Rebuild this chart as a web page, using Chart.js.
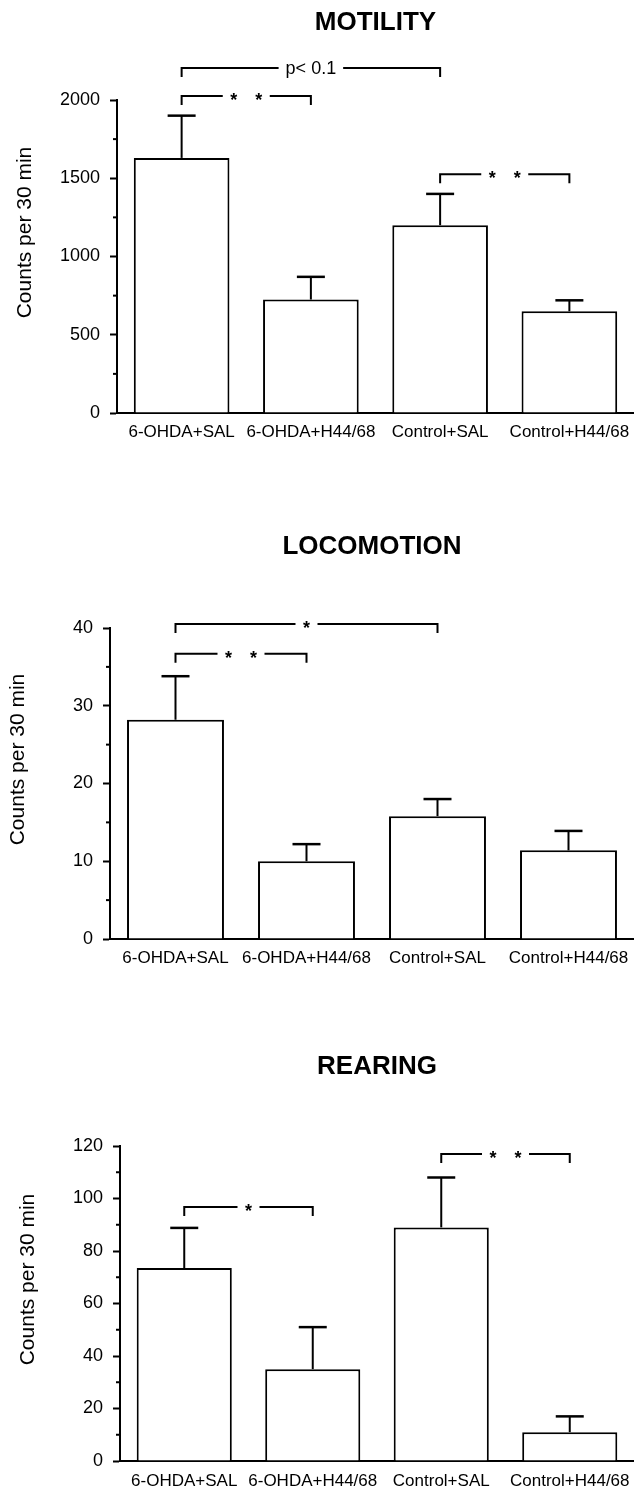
<!DOCTYPE html>
<html>
<head>
<meta charset="utf-8">
<script src="https://cdn.jsdelivr.net/npm/chart.js@4.4.0/dist/chart.umd.min.js"></script>
<style>
  body { margin: 0; background: #fff; }
  canvas { display: block; }
</style>
</head>
<body>
<canvas id="motility-chart" width="634" height="470"></canvas>
<canvas id="locomotion-chart" width="634" height="505"></canvas>
<canvas id="rearing-chart" width="634" height="514"></canvas>
<script>
// data
var groups = ['6-OHDA+SAL', '6-OHDA+H44/68', 'Control+SAL', 'Control+H44/68'];

var motilityMeans = [1630, 725, 1200, 650];
var motilityErrors = [270, 145, 200, 70];
var motilityTicks = [0, 500, 1000, 1500, 2000];

var locomotionMeans = [28.2, 10, 15.8, 11.4];
var locomotionErrors = [5.6, 2.2, 2.2, 2.5];
var locomotionTicks = [0, 10, 20, 30, 40];

var rearingMeans = [73.5, 35, 89, 11];
var rearingErrors = [15.3, 16, 19, 6];
var rearingTicks = [0, 20, 40, 60, 80, 100, 120];

// significance brackets (group indices + level in axis units)
var motilityBrackets = [
  { from: 0, to: 2, level: 2205, label: 'p< 0.1' },
  { from: 0, to: 1, level: 2025, label: '* *' },
  { from: 2, to: 3, level: 1525, label: '* *' }
];
var locomotionBrackets = [
  { from: 0, to: 2, level: 40.5, label: '*' },
  { from: 0, to: 1, level: 36.7, label: '* *' }
];
var rearingBrackets = [
  { from: 0, to: 1, level: 96.8, label: '*' },
  { from: 2, to: 3, level: 117, label: '* *' }
];

Chart.defaults.font.family = '"Liberation Sans", Arial, sans-serif';
Chart.defaults.color = '#000';

// minor ticks, error bars, brackets and the y title
var panelDecor = {
  id: 'panelDecor',
  afterDatasetsDraw: function (chart, args, opts) {
    var ctx = chart.ctx;
    var area = chart.chartArea;
    var yScale = chart.scales.y;
    var bars = chart.getDatasetMeta(0).data;
    var means = chart.data.datasets[0].data;
    ctx.save();
    ctx.strokeStyle = '#000';
    ctx.fillStyle = '#000';

    ctx.lineWidth = 2;
    for (var i = 0; i < opts.ticks.length - 1; i++) {
      var ym = yScale.getPixelForValue((opts.ticks[i] + opts.ticks[i + 1]) / 2);
      ctx.beginPath();
      ctx.moveTo(area.left - 4, ym);
      ctx.lineTo(area.left, ym);
      ctx.stroke();
    }

    bars.forEach(function (bar, i) {
      var top = yScale.getPixelForValue(means[i] + opts.errors[i]);
      ctx.lineWidth = 2;
      ctx.beginPath();
      ctx.moveTo(bar.x, bar.y);
      ctx.lineTo(bar.x, top);
      ctx.stroke();
      ctx.lineWidth = 2.5;
      ctx.beginPath();
      ctx.moveTo(bar.x - 14, top);
      ctx.lineTo(bar.x + 14, top);
      ctx.stroke();
    });

    opts.brackets.forEach(function (b) {
      var x1 = bars[b.from].x, x2 = bars[b.to].x;
      var yb = yScale.getPixelForValue(b.level);
      var mid = (x1 + x2) / 2;
      var half;
      ctx.textAlign = 'center';
      if (b.label.indexOf('*') >= 0) {
        var parts = b.label.split(' ');
        ctx.font = 'bold 18px "Liberation Sans", Arial, sans-serif';
        ctx.textBaseline = 'alphabetic';
        parts.forEach(function (p, k) {
          ctx.fillText(p, mid + (k - (parts.length - 1) / 2) * 25, yb + 10);
        });
        half = (parts.length - 1) / 2 * 25 + 11;
      } else {
        ctx.font = '18px "Liberation Sans", Arial, sans-serif';
        ctx.textBaseline = 'middle';
        ctx.fillText(b.label, mid, yb + 1);
        half = ctx.measureText(b.label).width / 2 + 7;
      }
      ctx.lineWidth = 2;
      ctx.beginPath();
      ctx.moveTo(x1, yb + 9);
      ctx.lineTo(x1, yb);
      ctx.lineTo(mid - half, yb);
      ctx.moveTo(mid + half, yb);
      ctx.lineTo(x2, yb);
      ctx.lineTo(x2, yb + 9);
      ctx.stroke();
    });

    ctx.translate(area.left - 92, (area.top + area.bottom) / 2 - 24);
    ctx.rotate(-Math.PI / 2);
    ctx.font = '21px "Liberation Sans", Arial, sans-serif';
    ctx.textAlign = 'center';
    ctx.textBaseline = 'middle';
    ctx.fillText(opts.yTitle, 0, 0);
    ctx.restore();
  }
};

function buildChart(canvasId, title, means, errors, ticks, brackets, box) {
  return new Chart(document.getElementById(canvasId), {
    type: 'bar',
    data: {
      labels: groups,
      datasets: [{
        data: means,
        backgroundColor: '#fff',
        borderColor: '#000',
        borderWidth: 2,
        barPercentage: 0.74,
        categoryPercentage: 1
      }]
    },
    options: {
      responsive: false,
      animation: false,
      layout: { padding: 0 },
      plugins: {
        legend: { display: false },
        tooltip: { enabled: false },
        title: {
          display: true,
          text: title,
          color: '#000',
          fullSize: false,
          font: { size: 26, weight: 'bold' },
          padding: { top: box.titleTop, bottom: box.titleBottom }
        },
        panelDecor: { errors: errors, ticks: ticks, brackets: brackets, yTitle: 'Counts per 30 min' }
      },
      scales: {
        x: {
          grid: { display: false, drawTicks: false },
          border: { color: '#000', width: 2 },
          ticks: { color: '#000', font: { size: 17 }, padding: box.labelPad, autoSkip: false, maxRotation: 0 },
          afterFit: function (s) {
            s.height = box.xHeight;
            s.paddingLeft = 0;
            s.paddingRight = 0;
          }
        },
        y: {
          min: ticks[0],
          max: ticks[ticks.length - 1],
          afterBuildTicks: function (s) {
            s.ticks = ticks.map(function (v) { return { value: v }; });
          },
          grid: { drawOnChartArea: false, drawTicks: true, tickLength: 7, tickColor: '#000', tickWidth: 2 },
          border: { color: '#000', width: 2 },
          ticks: { color: '#000', font: { size: 18 }, padding: 10, callback: function (v) { return String(v); } },
          afterFit: function (s) { s.width = box.left; }
        }
      }
    },
    plugins: [panelDecor]
  });
}

buildChart('motility-chart', 'MOTILITY', motilityMeans, motilityErrors, motilityTicks, motilityBrackets,
  { titleTop: 7.4, titleBottom: 61.4, xHeight: 57, left: 117, labelPad: 9 });
buildChart('locomotion-chart', 'LOCOMOTION', locomotionMeans, locomotionErrors, locomotionTicks, locomotionBrackets,
  { titleTop: 61.4, titleBottom: 65.4, xHeight: 36, left: 110, labelPad: 9 });
buildChart('rearing-chart', 'REARING', rearingMeans, rearingErrors, rearingTicks, rearingBrackets,
  { titleTop: 76.4, titleBottom: 63.4, xHeight: 28, left: 120, labelPad: 10 });
</script>
</body>
</html>
